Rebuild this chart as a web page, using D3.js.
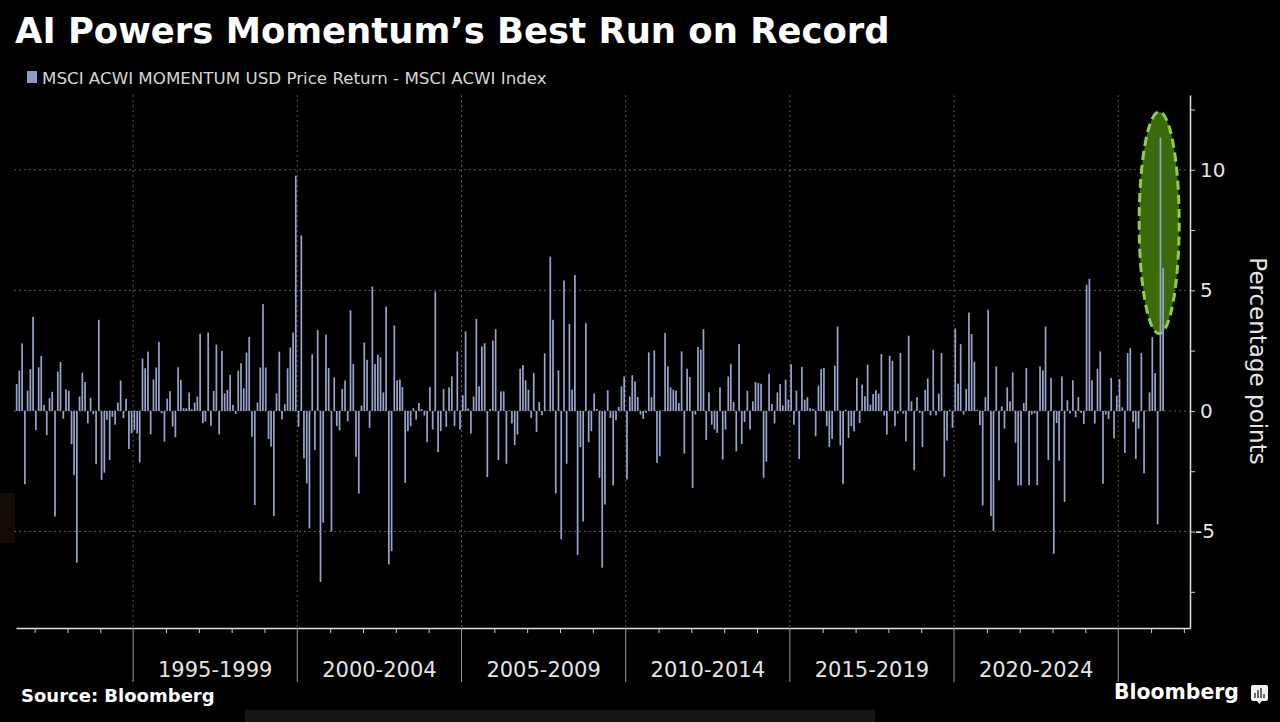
<!DOCTYPE html>
<html>
<head>
<meta charset="utf-8">
<script src="https://cdn.jsdelivr.net/npm/d3@7"></script>
<style>
body { margin: 0; background: #000; overflow: hidden; }
svg { display: block; }
</style>
</head>
<body>
<script>
var width = 1280,
    height = 722;

// Momentum minus ACWI, monthly, percentage points (Jun 1991 .. May 2026)
var v1991_1994 = [1.12, 1.67, 2.8, -3.04, 0.84, 1.73, 3.9, -0.79, 1.81, 2.28, 0.25, -1.0, 0.53, 0.8, -4.38, 1.63,
    2.03, -0.32, 0.9, 0.84, -1.38, -2.66, -6.29, 0.6, 1.59, 1.2, -0.51, 0.55, -0.14, -2.21, 3.78, -2.86, -2.56,
    -0.37, -2.03, -0.24, -0.57, 0.35, 1.26, -0.3, 0.5, -1.58, -0.93];
var v1995_1999 = [-0.79, -0.93, -2.13, 2.17, 1.77, 2.46, -0.97, 1.31, 1.8, 2.86, -0.1, -1.27, 0.51, 0.82, -0.65,
    -1.09, 1.81, 1.29, 0.11, 0.11, 0.76, 0.07, 0.35, 0.6, 3.2, -0.51, -0.44, 3.25, -0.62, 0.83, 2.75, -0.97, 2.49,
    0.73, 0.87, 1.49, 0.25, -0.12, 1.67, 1.98, 0.94, 2.42, 3.06, -1.07, -3.9, 0.35, 1.8, 4.43, 1.8, -1.16, -1.48,
    -4.36, 0.73, 2.46, -0.35, 0.28, 1.77, 2.63, 3.25, 9.75];
var v2000_2004 = [-0.65, 7.27, -1.97, -3.0, -4.87, 2.35, -1.62, 3.36, -7.09, -4.63, 3.16, 1.78, -5.0, 1.39, -0.63,
    -0.81, 0.91, 1.26, -0.43, 4.17, 1.94, -1.9, -3.43, 0.22, 2.84, 2.12, -0.7, 5.16, 1.94, 2.33, 2.22, 0.77, 4.33,
    -6.36, -5.81, 3.54, 1.27, 1.3, 0.99, -2.98, -0.84, -0.63, 0.12, -0.36, 0.33, 0.08, -0.19, -1.3, 0.99, -0.77,
    4.95, -1.71, -0.84, 0.91, -0.66, 0.98, 1.43, -0.63, 2.47, -0.77];
var v2005_2009 = [0.65, 3.3, 0.1, -0.94, 0.6, 3.82, 1.02, 2.68, 2.81, -2.74, 0.08, 2.92, 3.39, -2.04, 0.81, 0.81,
    -2.19, 0.02, -0.52, -1.42, -0.98, 1.75, 1.9, 1.27, 0.88, -0.29, 1.57, -0.87, 0.37, -0.18, 2.39, 0.02, 6.4, 3.78,
    -3.42, 1.68, -5.32, 5.41, -2.19, 3.61, 0.88, 5.64, -5.97, -1.5, -4.59, 3.64, -1.3, -0.84, 0.72, 0.08, -2.77,
    -6.5, -3.88, 0.86, -0.29, -3.09, -0.39, 0.17, 1.02, 1.43];
var v2010_2014 = [-2.84, 0.6, 1.48, 1.23, 0.58, -0.15, -0.33, -0.08, 2.43, 0.57, 2.51, -2.15, -1.88, 0.03, 3.23,
    1.85, 0.98, 0.88, 0.84, 0.33, 2.47, -1.77, 1.75, 1.41, -3.2, -0.15, 2.65, 2.54, 3.39, -1.21, 0.77, -0.57, -0.77,
    -0.91, 0.98, -2.01, -0.77, 1.43, 1.94, 0.37, -1.68, 2.77, -1.37, -0.46, 0.83, -0.77, 0.4, 1.2, 1.16, 1.13,
    -2.77, -2.1, 1.54, 0.29, -0.52, 0.77, 1.12, 0.22, 1.3, 0.47];
var v2015_2019 = [1.94, -0.57, 0.84, -1.99, 1.82, 0.47, 0.57, 0.11, 0.08, -1.05, 1.05, 1.74, 1.78, -0.63, -1.49,
    -1.16, 1.88, 3.5, -1.43, -3.03, 0.05, -1.12, -0.63, -0.84, 1.37, -0.5, 1.09, 0.61, 1.92, 0.26, 0.7, 0.86, 0.72,
    2.36, -0.19, -0.98, 2.29, 2.08, -0.63, -0.11, 2.4, -0.11, -1.26, 3.12, 0.4, -2.46, 0.57, -0.08, -1.5, 0.88,
    1.35, -0.19, 2.54, -0.18, 0.72, 2.4, -2.73, -1.23, 0.05, -0.7];
var v2020_2024 = [3.42, 1.13, 2.77, -0.15, 0.91, 4.08, 3.19, 2.04, 0.05, -0.59, -3.92, 0.57, 4.19, -4.36, -4.98,
    1.85, -2.88, 0.19, -0.73, 0.98, 0.4, 1.6, -1.32, -3.09, -3.09, 0.33, 1.78, -3.08, -0.15, -0.1, -3.08, 1.85,
    1.68, 3.5, -2.04, 1.37, -5.92, -0.5, -2.06, 1.43, -3.77, 0.44, -0.11, 1.27, -0.26, 0.58, -0.08, -0.54, 5.23,
    5.48, 1.27, -0.52, 1.75, 2.47, -3.02, -0.15, -0.33, 1.37, -1.14, 0.63];
var v2025_2026 = [1.32, 0.15, -1.74, 2.4, 2.6, -0.46, -1.99, -0.73, 2.4, -2.59, 0.02, 0.77, 3.06, 1.57, -4.7,
    11.34, 5.92];

var periodLabels = ["1995-1999", "2000-2004", "2005-2009", "2010-2014", "2015-2019", "2020-2024"];
var periodYears = [1995, 2000, 2005, 2010, 2015, 2020, 2025];
var yLabelTicks = [-5, 0, 5, 10];
var yTicks = [-7.5, -5, -2.5, 0, 2.5, 5, 7.5, 10, 12.5];
var highlight = { from: 3.2, to: 12.4 };

var values = [].concat(v1991_1994, v1995_1999, v2000_2004, v2005_2009, v2010_2014, v2015_2019, v2020_2024, v2025_2026);
var months = values.map(function(v, i) {
    return { date: new Date(1991, 5 + i, 15), value: v };
});

var plot = { left: 16, right: 1190, top: 95, bottom: 628 };

var x = d3.scaleTime()
    .domain([new Date(1991, 5, 8), new Date(2027, 2, 10)])
    .range([plot.left, plot.right]);

var y = d3.scaleLinear()
    .domain([-9, 13.1])
    .range([plot.bottom, plot.top]);

var svg = d3.select("body").append("svg")
    .attr("width", width)
    .attr("height", height);

svg.append("rect")
    .attr("width", width)
    .attr("height", height)
    .attr("fill", "#000");

// screenshot leftovers
svg.append("rect").attr("x", 0).attr("y", 493).attr("width", 15).attr("height", 50).attr("fill", "#140a06");
svg.append("rect").attr("x", 245).attr("y", 710).attr("width", 630).attr("height", 12).attr("fill", "#161616");

// title + legend
svg.append("text")
    .attr("x", 15)
    .attr("y", 43)
    .attr("fill", "#fff")
    .style("font", "bold 35.4px 'DejaVu Sans'")
    .text("AI Powers Momentum\u2019s Best Run on Record");

svg.append("rect")
    .attr("x", 27)
    .attr("y", 71)
    .attr("width", 10)
    .attr("height", 12)
    .attr("fill", "#8e9bc4");

svg.append("text")
    .attr("x", 42)
    .attr("y", 84)
    .attr("fill", "#d6d6d6")
    .style("font", "16.7px 'DejaVu Sans'")
    .text("MSCI ACWI MOMENTUM USD Price Return - MSCI ACWI Index");

// grid
svg.append("g").selectAll("line")
    .data(yLabelTicks)
    .enter().append("line")
    .attr("x1", plot.left - 2)
    .attr("x2", plot.right)
    .attr("y1", function(d) { return y(d); })
    .attr("y2", function(d) { return y(d); })
    .attr("stroke", "#5a5a5a")
    .attr("stroke-dasharray", "2,3");

svg.append("g").selectAll("line")
    .data(periodYears)
    .enter().append("line")
    .attr("x1", function(d) { return x(new Date(d, 0, 1)); })
    .attr("x2", function(d) { return x(new Date(d, 0, 1)); })
    .attr("y1", plot.top)
    .attr("y2", plot.bottom)
    .attr("stroke", "#5a5a5a")
    .attr("stroke-dasharray", "2,3");

// highlight ellipse
svg.append("ellipse")
    .attr("cx", x(new Date(2026, 3, 1)))
    .attr("cy", y((highlight.from + highlight.to) / 2))
    .attr("rx", 20)
    .attr("ry", (y(highlight.from) - y(highlight.to)) / 2)
    .attr("fill", "#3b6a0d")
    .attr("stroke", "#8fd048")
    .attr("stroke-width", 3)
    .attr("stroke-dasharray", "9,5");

// bars
svg.append("g").selectAll("rect")
    .data(months)
    .enter().append("rect")
    .attr("x", function(d) { return x(d.date) - 0.85; })
    .attr("width", 1.7)
    .attr("y", function(d) { return Math.min(y(d.value), y(0)); })
    .attr("height", function(d) { return Math.abs(y(d.value) - y(0)); })
    .attr("fill", "#98a4cc");

// bottom axis
var yearTicks = d3.timeYear.range(x.domain()[0], x.domain()[1]).filter(function(d) {
    return periodYears.indexOf(d.getFullYear()) < 0;
});

var xAxis = svg.append("g")
    .attr("transform", "translate(0," + plot.bottom + ")")
    .call(d3.axisBottom(x).tickValues(yearTicks).tickSize(5).tickSizeOuter(0).tickFormat(""));
xAxis.select(".domain").attr("stroke", "#e0e0e0").attr("stroke-width", 1.5);
xAxis.selectAll(".tick line").attr("stroke", "#cfcfcf");

svg.append("g").selectAll("line")
    .data(periodYears)
    .enter().append("line")
    .attr("x1", function(d) { return x(new Date(d, 0, 1)); })
    .attr("x2", function(d) { return x(new Date(d, 0, 1)); })
    .attr("y1", plot.bottom)
    .attr("y2", plot.bottom + 54)
    .attr("stroke", "#9a9a9a");

svg.append("g").selectAll("text")
    .data(periodLabels)
    .enter().append("text")
    .attr("x", function(d, i) {
        return (x(new Date(periodYears[i], 0, 1)) + x(new Date(periodYears[i + 1], 0, 1))) / 2;
    })
    .attr("y", 677)
    .attr("text-anchor", "middle")
    .attr("fill", "#e4e4e4")
    .style("font", "21px 'DejaVu Sans'")
    .text(function(d) { return d; });

// right axis
var yAxis = svg.append("g")
    .attr("transform", "translate(" + plot.right + ",0)")
    .call(d3.axisRight(y).tickValues(yTicks).tickSize(5).tickSizeOuter(0).tickPadding(5)
        .tickFormat(function(d) { return yLabelTicks.indexOf(d) >= 0 ? String(d) : ""; }));
yAxis.select(".domain").attr("stroke", "#e0e0e0").attr("stroke-width", 1.5);
yAxis.selectAll(".tick line").attr("stroke", "#cfcfcf");
yAxis.selectAll(".tick text")
    .attr("fill", "#e4e4e4")
    .attr("dx", function(d) { return d < 0 ? -5 : 0; })
    .style("font", "20px 'DejaVu Sans'");

svg.append("text")
    .attr("transform", "translate(1250,361) rotate(90)")
    .attr("text-anchor", "middle")
    .attr("fill", "#e4e4e4")
    .style("font", "23px 'DejaVu Sans'")
    .text("Percentage points");

// footer
svg.append("text")
    .attr("x", 21)
    .attr("y", 702)
    .attr("fill", "#fff")
    .style("font", "bold 18px 'DejaVu Sans'")
    .text("Source: Bloomberg");

svg.append("text")
    .attr("x", 1114)
    .attr("y", 699)
    .attr("fill", "#fff")
    .style("font", "bold 20.4px 'DejaVu Sans'")
    .text("Bloomberg");

var logo = svg.append("g").attr("transform", "translate(1251,685)");
logo.append("path")
    .attr("d", "M2,0H15Q17,0 17,2V14Q17,16 15,16H11L8.5,19L6,16H2Q0,16 0,14V2Q0,0 2,0Z")
    .attr("fill", "#f2f2f2");
logo.selectAll("rect")
    .data([[4, 8, 5], [7, 5, 8], [10, 3, 10], [13, 9, 4]])
    .enter().append("rect")
    .attr("x", function(d) { return d[0] - 0.7; })
    .attr("y", function(d) { return d[1]; })
    .attr("width", 1.4)
    .attr("height", function(d) { return d[2]; })
    .attr("fill", "#333");
</script>
</body>
</html>
